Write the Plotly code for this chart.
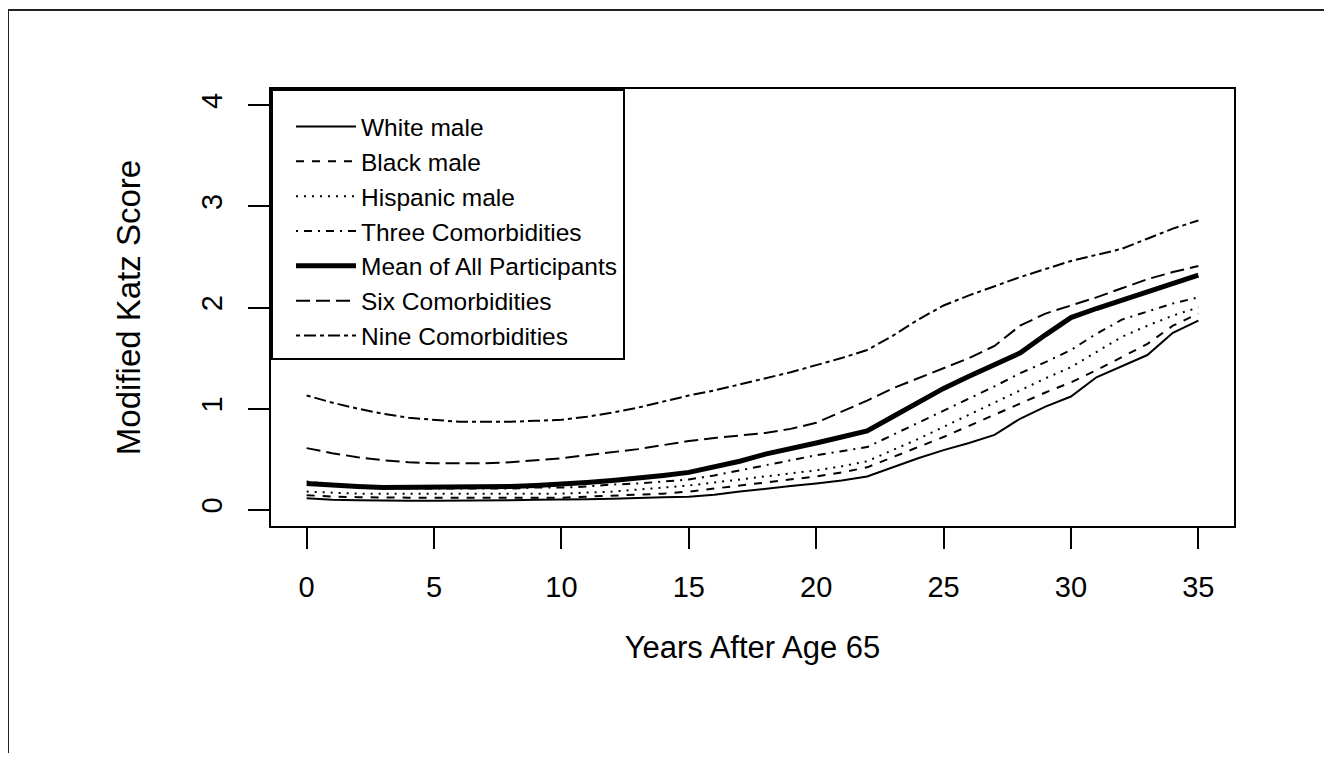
import plotly.graph_objects as go

years = list(range(0, 36))

white_male = [0.115, 0.10, 0.095, 0.09, 0.09, 0.09, 0.09, 0.09, 0.095, 0.10,
              0.10, 0.105, 0.11, 0.12, 0.125, 0.13, 0.15, 0.18, 0.21, 0.235,
              0.26, 0.29, 0.33, 0.42, 0.51, 0.59, 0.66, 0.74, 0.90, 1.02,
              1.12, 1.31, 1.42, 1.53, 1.75, 1.87]
black_male = [0.145, 0.13, 0.125, 0.12, 0.12, 0.12, 0.12, 0.12, 0.12, 0.12,
              0.12, 0.13, 0.14, 0.15, 0.16, 0.18, 0.21, 0.24, 0.27, 0.30,
              0.33, 0.37, 0.42, 0.52, 0.62, 0.72, 0.83, 0.94, 1.05, 1.16,
              1.26, 1.38, 1.51, 1.64, 1.82, 1.94]
hispanic_male = [0.18, 0.17, 0.16, 0.16, 0.16, 0.16, 0.16, 0.16, 0.16, 0.16,
                 0.16, 0.17, 0.18, 0.20, 0.22, 0.24, 0.27, 0.30, 0.33, 0.36,
                 0.39, 0.43, 0.48, 0.59, 0.70, 0.82, 0.94, 1.06, 1.18, 1.30,
                 1.41, 1.56, 1.71, 1.82, 1.92, 2.00]
three_comorb = [0.28, 0.25, 0.23, 0.22, 0.21, 0.21, 0.21, 0.21, 0.21, 0.22,
                0.22, 0.23, 0.25, 0.26, 0.28, 0.30, 0.34, 0.39, 0.44, 0.49,
                0.54, 0.58, 0.62, 0.74, 0.86, 0.98, 1.10, 1.22, 1.35, 1.46,
                1.58, 1.74, 1.88, 1.96, 2.04, 2.10]
mean_all = [0.26, 0.24, 0.23, 0.22, 0.22, 0.22, 0.22, 0.22, 0.23, 0.24,
            0.25, 0.27, 0.29, 0.31, 0.34, 0.37, 0.42, 0.48, 0.55, 0.60,
            0.66, 0.72, 0.78, 0.92, 1.06, 1.20, 1.32, 1.43, 1.55, 1.73,
            1.90, 1.99, 2.07, 2.15, 2.24, 2.32]
six_comorb = [0.61, 0.56, 0.52, 0.49, 0.47, 0.46, 0.46, 0.46, 0.47, 0.49,
              0.51, 0.54, 0.57, 0.60, 0.64, 0.68, 0.71, 0.735, 0.76, 0.80,
              0.86, 0.97, 1.08, 1.20, 1.30, 1.40, 1.50, 1.62, 1.82, 1.94,
              2.02, 2.10, 2.19, 2.28, 2.35, 2.41]
nine_comorb = [1.13, 1.06, 1.00, 0.95, 0.91, 0.89, 0.87, 0.87, 0.87, 0.88,
               0.89, 0.92, 0.96, 1.01, 1.07, 1.13, 1.18, 1.24, 1.30, 1.36,
               1.43, 1.50, 1.58, 1.72, 1.88, 2.02, 2.12, 2.21, 2.30, 2.38,
               2.46, 2.52, 2.58, 2.68, 2.78, 2.86]

series_names = ["White male", "Black male", "Hispanic male", "Three Comorbidities",
                "Mean of All Participants", "Six Comorbidities", "Nine Comorbidities"]
series_values = [white_male, black_male, hispanic_male, three_comorb,
                 mean_all, six_comorb, nine_comorb]
series_dash = ["solid", "8px,8px", "2px,6px", "2px,6px,8px,6px",
               "solid", "14px,6px", "4px,4px,12px,4px"]
series_width = [2, 2, 2, 2, 5, 2, 2]

x_ticks = [0, 5, 10, 15, 20, 25, 30, 35]
y_ticks = [0, 1, 2, 3, 4]

FONT = "Liberation Sans, Arial, sans-serif"

fig = go.Figure()
for i, (name, vals, dash, w) in enumerate(zip(series_names, series_values, series_dash, series_width)):
    fig.add_trace(go.Scatter(
        x=years, y=vals, mode="lines", name=name,
        line=dict(color="black", width=w, dash=dash),
        legendgroup=f"g{i}",
    ))

fig.update_layout(
    width=1316, height=745,
    margin=dict(l=263, r=90, t=81, b=227),
    paper_bgcolor="white", plot_bgcolor="white",
    font=dict(family=FONT, color="black"),
    showlegend=True,
    legend=dict(
        x=0, y=1, xanchor="left", yanchor="top",
        bgcolor="white", bordercolor="black", borderwidth=2,
        font=dict(size=24.5, family=FONT, color="black"),
        traceorder="grouped", tracegroupgap=0,
        itemwidth=60, indentation=18,
        title=dict(text=" ", font=dict(size=10, family=FONT)),
    ),
    shapes=[dict(type="rect", xref="paper", yref="paper",
                 x0=-0.2731, x1=1.3, y0=-0.6, y1=1.1808,
                 line=dict(color="#222222", width=2), layer="below")],
)

fig.update_xaxes(
    range=[-1.4, 36.4], tickvals=x_ticks, ticktext=[str(v) for v in x_ticks],
    showline=True, mirror=True, linecolor="black", linewidth=2,
    ticks="outside", ticklen=21, tickwidth=2, tickcolor="black",
    showgrid=False, zeroline=False,
    tickfont=dict(size=29, family=FONT, color="black"),
    ticklabelstandoff=13,
    title=dict(text="Years After Age 65", font=dict(size=31, family=FONT, color="black"), standoff=35),
)
fig.update_yaxes(
    range=[-0.16, 4.16], tickvals=y_ticks, ticktext=[str(v) for v in y_ticks],
    showline=True, mirror=True, linecolor="black", linewidth=2,
    ticks="outside", ticklen=21, tickwidth=2, tickcolor="black",
    showgrid=False, zeroline=False, tickangle=-90,
    tickfont=dict(size=29, family=FONT, color="black"),
    ticklabelstandoff=14,
    title=dict(text="Modified Katz Score", font=dict(size=33, family=FONT, color="black"), standoff=46),
)

fig.write_html("out.html")
